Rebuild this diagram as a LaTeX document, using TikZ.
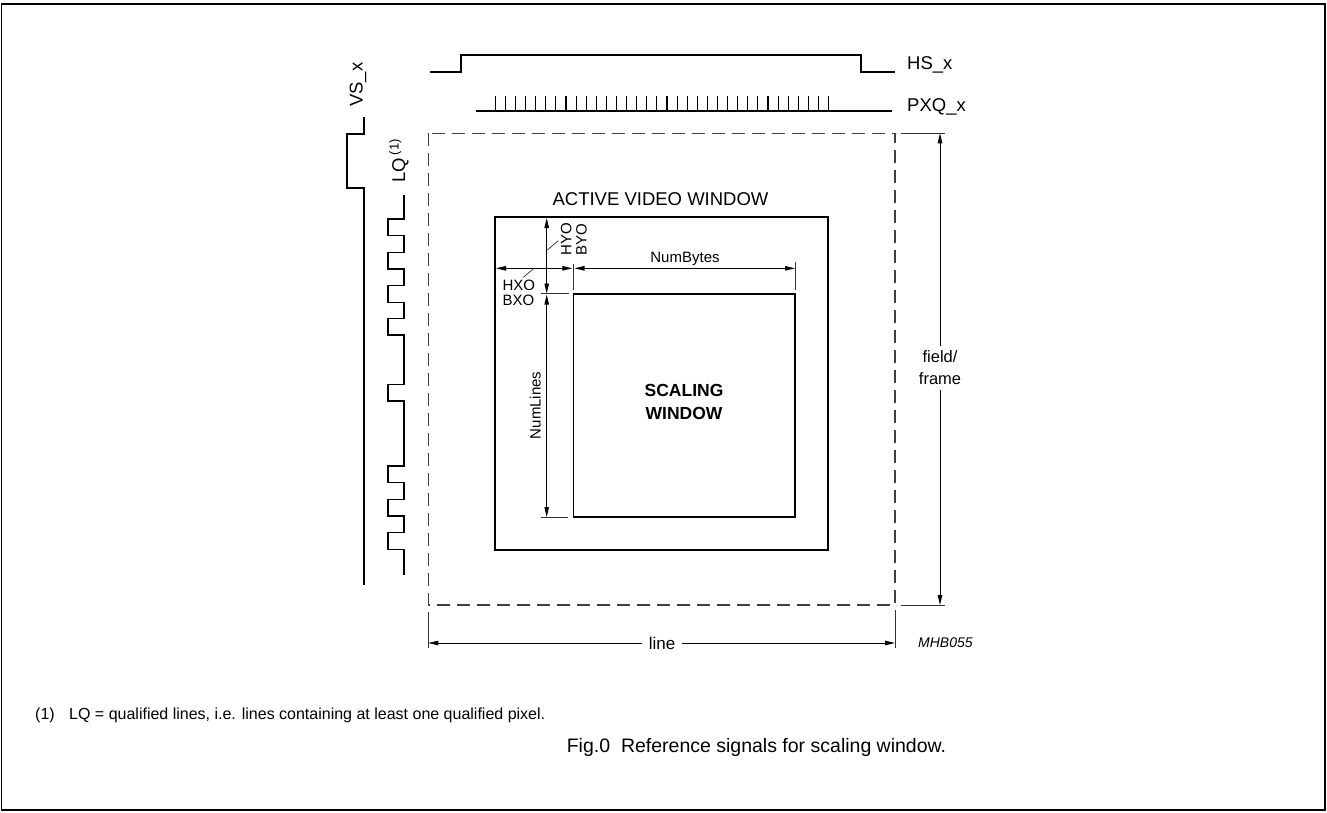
\documentclass[tikz,border=0pt]{standalone}
\usepackage{fontspec}
\setmainfont{Liberation Sans}
\usetikzlibrary{arrows.meta, positioning}

\begin{document}
\begin{tikzpicture}[x=1pt, y=-1pt]
\tikzstyle{box}=[draw=black, line width=1.6pt]
\tikzstyle{frame}=[draw=black!75, line width=1.3pt, dash pattern=on 13pt off 7pt]
\tikzstyle{wave}=[draw, line width=1.5pt, line join=miter]
\tikzstyle{dim}=[draw, line width=0.9pt, >={Triangle[length=10pt,width=4.5pt]}]
\tikzstyle{ext}=[draw=black!80, line width=0.7pt]
\tikzstyle{sig}=[inner sep=0pt, font=\fontsize{18.5}{21}\selectfont]
\tikzstyle{lbl}=[inner sep=0pt, font=\fontsize{15}{15.3}\selectfont]

\useasboundingbox (0,0) rectangle (1327,812);
\draw[line width=1.5pt] (1.5,4) rectangle (1325,810);

% horizontal reference signals
\draw[wave] (430,72) -- (461,72) -- (461,55) -- (861,55) -- (861,72) -- (895,72);
\node[sig, anchor=base west] (hs) at (907,69.3) {HS\_x};
\draw[wave, line width=1.2pt] (476,111) -- (892,111);
\foreach \i in {0,...,33}
  \draw[line width=1.1pt] (495.3+10.1*\i,96) -- (495.3+10.1*\i,111);
\node[sig, anchor=base west] (pxq) at (907,111) {PXQ\_x};

% vertical reference signals
\draw[wave] (364,117) -- (364,134) -- (347,134) -- (347,188) -- (364,188) -- (364,585);
\node[sig, rotate=90, anchor=base west] (vs) at (362.7,107) {VS\_x};
\draw[wave] (404,195) foreach \p in {219,252.3,285.7,318.3,384.3,466,499.3,532.7} {
  -- (404,\p) -- (388,\p) -- (388,\p+16.7) -- (404,\p+16.7) } -- (404,575);
\node[sig, rotate=90, anchor=base west] (lq) at (405,183) {LQ\,\textsuperscript{(1)}};

% field/frame
\draw[frame] (428.3,133.3) rectangle (895,605);
\coordinate (ft) at (940,133.3);
\coordinate (fb) at (940,605);
\draw[ext] (901,133.3) -- (945,133.3);
\draw[ext] (901,605) -- (945,605);
\node[lbl, align=center, inner sep=5pt, font=\fontsize{16.5}{22}\selectfont] (field) at (940,368) {field/\\frame};
\draw[dim, ->] (field) -- (ft);
\draw[dim, ->] (field) -- (fb);

% line
\coordinate (ll) at (428.3,643);
\coordinate (lr) at (895,643);
\draw[ext] (428.3,612) -- (428.3,648);
\draw[ext] (895,610) -- (895,648);
\node[lbl, inner sep=7pt, font=\fontsize{17}{20}\selectfont] (line) at (662,643) {line};
\draw[dim, ->] (line) -- (ll);
\draw[dim, ->] (line) -- (lr);
\node[lbl, right=23pt of lr, font=\fontsize{14}{16}\itshape] (code) {MHB055};

% windows
\draw[box] (495,217) rectangle (828,550);
\node[sig, anchor=base] (active) at (660.5,205.7) {ACTIVE VIDEO WINDOW};
\draw[box] (573.3,294) rectangle (795,517);
\node[lbl, align=center, font=\fontsize{17.5}{23}\selectfont\bfseries] (scaling) at (684,402) {SCALING\\WINDOW};

% offsets and sizes
\coordinate (nbl) at (574.5,268.3);
\coordinate (nbr) at (795,268.3);
\draw[ext] (573.3,264) -- (573.3,290);
\draw[ext] (795,262) -- (795,290);
\draw[dim, <->] (nbl) -- (nbr);
\node[lbl, anchor=base] (numbytes) at (685,262.3) {NumBytes};

\coordinate (hxl) at (496,268.3);
\coordinate (hxr) at (572.3,268.3);
\draw[dim, <->] (hxl) -- (hxr);
\node[lbl, align=left, anchor=north west] (hxo) at (502.3,279.8) {HXO\\BXO};
\coordinate (hxlead) at (534,268.3);
\draw[ext] (523.3,277.3) -- (hxlead);

\coordinate (hyt) at (546.7,218);
\coordinate (hyb) at (546.7,293.5);
\draw[ext] (540.7,293.7) -- (569,293.7);
\draw[dim, <->] (hyt) -- (hyb);
\node[lbl, rotate=90, align=left, anchor=north west] (hyo) at (560.7,255.5) {HYO\\BYO};
\coordinate (hylead) at (547.3,250);
\draw[ext] (hylead) -- (558.3,240.7);

\coordinate (nlt) at (546.7,294.5);
\coordinate (nlb) at (546.7,517);
\draw[ext] (540.7,517.5) -- (568,517.5);
\draw[dim, <->] (nlt) -- (nlb);
\node[lbl, rotate=90, anchor=base] (numlines) at (540.7,405.3) {NumLines};

% notes
\node[lbl, anchor=base west, font=\fontsize{16}{18}\selectfont] (fnum) at (35,719) {(1)};
\node[lbl, anchor=base west, font=\fontsize{16}{18}\selectfont] (fnote) at (69,719) {LQ = qualified lines, i.e. lines containing at least one qualified pixel.};
\node[lbl, anchor=base, font=\fontsize{19.5}{22}\selectfont] (caption) at (756.5,752) {Fig.0\ \ Reference signals for scaling window.};
\end{tikzpicture}
\end{document}
